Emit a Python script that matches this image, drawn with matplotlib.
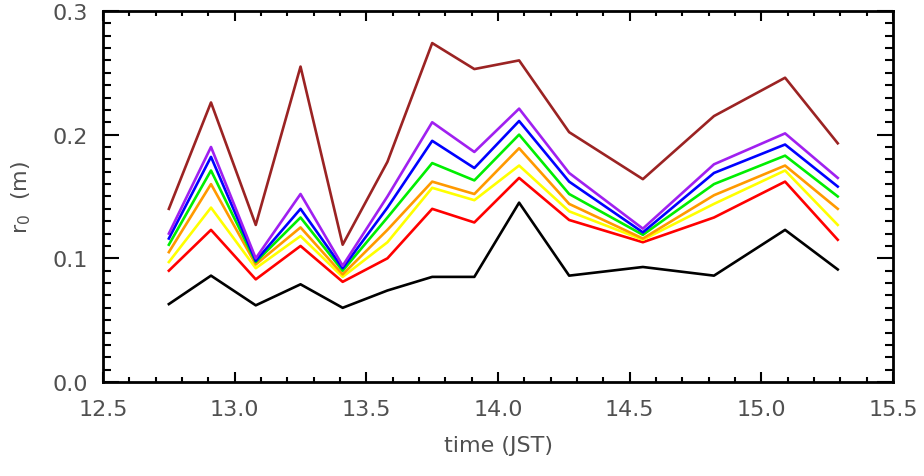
import numpy as np
import matplotlib
matplotlib.use("Agg")
import matplotlib.pyplot as plt
from matplotlib.ticker import MultipleLocator

# observation times (JST, hours)
time_jst = [12.75, 12.91, 13.08, 13.25, 13.41, 13.58, 13.75, 13.91,
            14.08, 14.27, 14.55, 14.82, 15.09, 15.29]

# r0 (m) per series
r0_brown = [0.140, 0.226, 0.127, 0.255, 0.111, 0.178, 0.274, 0.253,
            0.260, 0.202, 0.164, 0.215, 0.246, 0.193]
r0_purple = [0.120, 0.190, 0.100, 0.152, 0.094, 0.150, 0.210, 0.186,
             0.221, 0.169, 0.124, 0.176, 0.201, 0.165]
r0_blue = [0.116, 0.182, 0.098, 0.140, 0.092, 0.141, 0.195, 0.173,
           0.211, 0.162, 0.121, 0.169, 0.192, 0.158]
r0_green = [0.111, 0.171, 0.097, 0.133, 0.090, 0.133, 0.177, 0.163,
            0.200, 0.152, 0.119, 0.160, 0.183, 0.150]
r0_orange = [0.105, 0.160, 0.095, 0.125, 0.087, 0.123, 0.162, 0.152,
             0.189, 0.144, 0.116, 0.151, 0.175, 0.140]
r0_yellow = [0.097, 0.141, 0.092, 0.118, 0.085, 0.113, 0.157, 0.147,
             0.175, 0.138, 0.115, 0.144, 0.171, 0.127]
r0_red = [0.090, 0.123, 0.083, 0.110, 0.081, 0.100, 0.140, 0.129,
          0.165, 0.131, 0.113, 0.133, 0.162, 0.115]
r0_black = [0.063, 0.086, 0.062, 0.079, 0.060, 0.074, 0.085, 0.085,
            0.145, 0.086, 0.093, 0.086, 0.123, 0.091]

series = [r0_black, r0_red, r0_yellow, r0_orange, r0_green, r0_blue, r0_purple, r0_brown]
colors = ["#000000", "#ff0000", "#ffff00", "#ff9900", "#00ee00", "#0000ff", "#a020f0", "#9b2323"]

fig = plt.figure(figsize=(9.24, 4.77), dpi=100)
ax = fig.add_axes([0.1115, 0.197, 0.855, 0.778])

for vals, c in zip(series, colors):
    ax.plot(time_jst, vals, color=c, lw=1.9)

ax.set_xlim(12.5, 15.5)
ax.set_ylim(0.0, 0.3)
ax.xaxis.set_major_locator(MultipleLocator(0.5))
ax.xaxis.set_minor_locator(MultipleLocator(0.1))
ax.yaxis.set_major_locator(MultipleLocator(0.1))
ax.yaxis.set_minor_locator(MultipleLocator(0.01))
ax.xaxis.set_major_formatter(plt.FormatStrFormatter("%.1f"))
ax.yaxis.set_major_formatter(plt.FormatStrFormatter("%.1f"))

ax.tick_params(axis="both", which="both", direction="in", top=True, right=True,
               width=1.5, colors="black", labelcolor="#505050", labelsize=16)
ax.tick_params(axis="x", which="major", length=7, pad=12)
ax.tick_params(axis="x", which="minor", length=3.5)
ax.tick_params(axis="y", which="major", length=11.5, pad=11)
ax.tick_params(axis="y", which="minor", length=6)
for s in ax.spines.values():
    s.set_linewidth(2)

ax.set_xlabel("time (JST)", fontsize=16, color="#505050", labelpad=12)
ax.set_ylabel("r$_0$  (m)", fontsize=16, color="#505050", labelpad=14)

fig.savefig("out.png", dpi=100)
